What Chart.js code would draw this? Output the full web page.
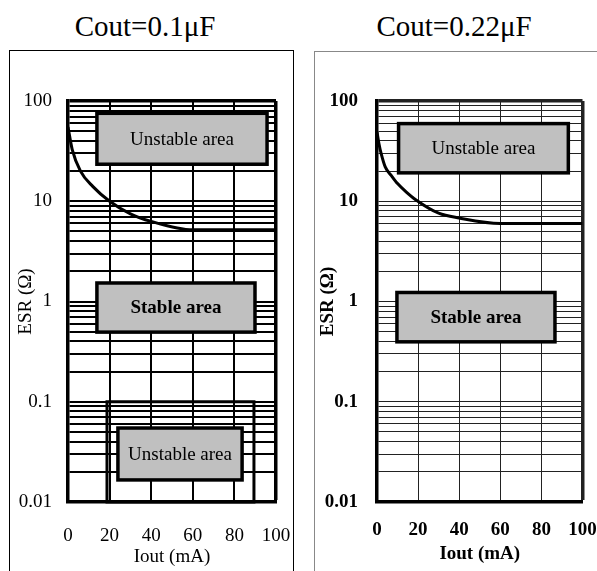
<!DOCTYPE html>
<html>
<head>
<meta charset="utf-8">
<script src="https://cdn.jsdelivr.net/npm/chart.js@4.4.1/dist/chart.umd.min.js"></script>
<style>
  body { margin: 0; width: 597px; height: 571px; overflow: hidden; background: #fff; position: relative; font-family: "Liberation Serif", serif; }
  .title { position: absolute; top: 12px; font-family: "Liberation Serif", serif; font-size: 29px; line-height: 29px; text-align: center; color: #000; white-space: nowrap; }
  #frameL { position: absolute; box-sizing: border-box; left: 9px; top: 50px; width: 285px; height: 540px; border: 1.5px solid #000; }
  #frameR { position: absolute; box-sizing: border-box; left: 314px; top: 51px; width: 300px; height: 540px; border: 1px solid #888; }
  .wrap { position: absolute; top: 52px; height: 519px; }
</style>
</head>
<body>
<div class="title" style="left:9px;width:272px;">Cout=0.1μF</div>
<div class="title" style="left:314px;width:280px;">Cout=0.22μF</div>
<div id="frameL"></div>
<div id="frameR"></div>
<div class="wrap" style="left:10px;width:282px;"><canvas id="left" width="282" height="519"></canvas></div>
<div class="wrap" style="left:316px;width:281px;"><canvas id="right" width="281" height="519"></canvas></div>
<script>
// axis values
const ioutTicks = [0, 20, 40, 60, 80, 100];
const esrLabels = [0.01, 0.1, 1, 10, 100];
const esrGrid = [
  0.01, 0.02, 0.03, 0.04, 0.05, 0.06, 0.07, 0.08, 0.09,
  0.1, 0.2, 0.3, 0.4, 0.5, 0.6, 0.7, 0.8, 0.9,
  1, 2, 3, 4, 5, 6, 7, 8, 9,
  10, 20, 30, 40, 50, 60, 70, 80, 90,
  100
];

// Cout = 0.1uF boundary curve
const leftIout = [0, 2, 6, 12, 20, 30, 40, 60, 100];
const leftEsr = [55, 33, 20, 14, 10, 7.5, 6.3, 5.2, 5.2];

// Cout = 0.22uF boundary curve
const rightIout = [0, 1, 2, 4, 7, 10, 14, 19, 30, 40, 60, 100];
const rightEsr = [49, 37, 30, 22, 18, 15, 12.5, 10.3, 7.6, 6.8, 6.0, 6.0];

// labelled areas (Iout range, ESR range)
const leftAreaText = ["Unstable area", "Stable area", "Unstable area"];
const leftAreaIout = [[13.9, 95.7], [13.9, 89.9], [24, 83.7]];
const leftAreaEsr = [[23.4, 75.4], [0.495, 1.53], [0.0166, 0.0547]];
const leftLowIout = [18.75, 89.4];
const leftLowEsr = [0.01, 0.1];

const rightAreaText = ["Unstable area", "Stable area"];
const rightAreaIout = [[10.5, 93.1], [9.7, 86.6]];
const rightAreaEsr = [[19.2, 59.5], [0.396, 1.23]];

const serif = "'Liberation Serif', 'Times New Roman', serif";

function areaPlugin(texts, ious, esrs, boldIdx, outline) {
  return {
    id: "areas",
    afterDatasetsDraw(chart) {
      const { ctx, scales: { x, y } } = chart;
      ctx.save();
      ctx.strokeStyle = "#000";
      if (outline) {
        const l = x.getPixelForValue(outline.x[0]), r = x.getPixelForValue(outline.x[1]);
        const t = y.getPixelForValue(outline.y[1]), b = y.getPixelForValue(outline.y[0]);
        ctx.lineWidth = 3;
        ctx.strokeRect(l, t, r - l, b - t);
      }
      texts.forEach((txt, i) => {
        const l = x.getPixelForValue(ious[i][0]), r = x.getPixelForValue(ious[i][1]);
        const t = y.getPixelForValue(esrs[i][1]), b = y.getPixelForValue(esrs[i][0]);
        ctx.fillStyle = "#c0c0c0";
        ctx.fillRect(l, t, r - l, b - t);
        ctx.lineWidth = 3.5;
        ctx.strokeRect(l, t, r - l, b - t);
        ctx.fillStyle = "#000";
        ctx.font = (boldIdx.includes(i) ? "bold " : "") + "19px " + serif;
        ctx.textAlign = "center";
        ctx.textBaseline = "middle";
        ctx.fillText(txt, (l + r) / 2, (t + b) / 2 + 1);
      });
      ctx.restore();
    }
  };
}

function makeChart(id, iout, esr, o, plugin) {
  const font = { family: serif, size: 19, weight: o.bold ? "bold" : "normal", lineHeight: 1.2 };
  return new Chart(document.getElementById(id), {
    type: "line",
    data: {
      datasets: [{
        data: iout.map((v, i) => ({ x: v, y: esr[i] })),
        borderColor: "#000",
        borderWidth: 3,
        pointRadius: 0,
        fill: false,
        cubicInterpolationMode: "monotone"
      }]
    },
    options: {
      responsive: false,
      animation: false,
      events: [],
      layout: { padding: { left: 0, top: 49, right: o.padRight, bottom: 0 } },
      plugins: { legend: { display: false }, tooltip: { enabled: false } },
      scales: {
        x: {
          type: "linear",
          min: 0,
          max: 100,
          afterBuildTicks: s => { s.ticks = ioutTicks.map(v => ({ value: v })); },
          afterFit: s => { s.height = 69; s.paddingLeft = 0; s.paddingRight = 0; },
          ticks: { font, color: "#000", padding: o.xPad, maxRotation: 0, autoSkip: false },
          grid: {
            drawTicks: false,
            color: o.gridColor,
            lineWidth: c => (c.tick && c.tick.value === 100 ? 3.5 : o.gridWidth)
          },
          border: { color: "#000", width: 3.5 },
          title: { display: true, text: "Iout (mA)", font, color: "#000", padding: { top: 0, bottom: o.xTitlePad } }
        },
        y: {
          type: "logarithmic",
          min: 0.01,
          max: 100,
          afterBuildTicks: s => { s.ticks = esrGrid.map(v => ({ value: v, major: esrLabels.includes(v) })); },
          afterFit: s => { s.width = o.yWidth; s.paddingTop = 0; s.paddingBottom = 0; },
          ticks: {
            font, color: "#000", padding: o.yPad, autoSkip: false,
            callback: v => (esrLabels.includes(v) ? String(v) : "")
          },
          grid: {
            drawTicks: false,
            color: o.gridColor,
            lineWidth: c => (c.tick && c.tick.value === 100 ? 3.5 : o.gridWidth)
          },
          border: { color: "#000", width: 3.5 },
          title: { display: true, text: "ESR (Ω)", font, color: "#000", padding: { top: o.yTitlePad, bottom: 0 } }
        }
      }
    },
    plugins: [plugin]
  });
}

makeChart("left", leftIout, leftEsr,
  { bold: false, padRight: 16, yWidth: 58, yPad: 16, xPad: 23, xTitlePad: 3, yTitlePad: 5, gridColor: "#000", gridWidth: 2 },
  areaPlugin(leftAreaText, leftAreaIout, leftAreaEsr, [1], { x: leftLowIout, y: leftLowEsr }));

makeChart("right", rightIout, rightEsr,
  { bold: true, padRight: 14.5, yWidth: 61, yPad: 19, xPad: 17, xTitlePad: 6, yTitlePad: 1, gridColor: "#222", gridWidth: 1 },
  areaPlugin(rightAreaText, rightAreaIout, rightAreaEsr, [1], null));
</script>
</body>
</html>
